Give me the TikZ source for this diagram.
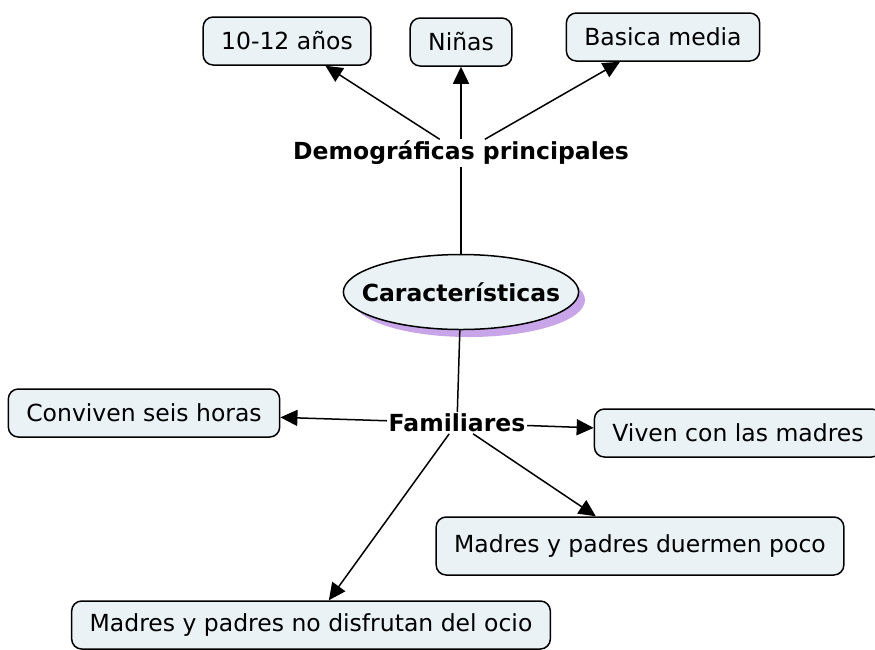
\documentclass[tikz,border=0pt]{standalone}
\usepackage{fontspec}
\setmainfont{DejaVu Sans}
\usetikzlibrary{arrows.meta,shapes.geometric}
\tikzset{>={Triangle[length=17pt,width=16pt]}}
\definecolor{boxfill}{RGB}{234,242,245}
\definecolor{shade1}{RGB}{200,165,232}

\begin{document}
\begin{tikzpicture}[x=1pt,y=-1pt,line width=1.5pt,
    concept/.style={draw,rounded corners=10pt,fill=boxfill,inner xsep=18pt,
      minimum height=48pt,font=\fontsize{23.5}{27}\selectfont},
    linkword/.style={inner sep=1pt,font=\fontsize{23.5}{27}\selectfont\bfseries}]
    \useasboundingbox(0,0)rectangle(875,649);
    % centre
    \fill[shade1](469,300)ellipse[x radius=116,y radius=37];
    \node[draw,ellipse,fill=boxfill,minimum width=232pt,minimum height=75pt,
      inner xsep=-16pt,inner ysep=0pt,
      font=\fontsize{23.5}{27}\selectfont\bfseries](car)at(461,292){Características};
    % upper branch
    \node[linkword](dem)at(461,153){Demográficas principales};
    \node[concept](anos)at(287,41){10-12 años};
    \node[concept](ninas)at(461,42){Niñas};
    \node[concept](basica)at(663,37){Basica media};
    \draw(car)--(dem);
    \draw[->](dem)--(anos);
    \draw[->](dem)--(ninas);
    \draw[->](dem)--(basica);
    % lower branch
    \node[linkword](fam)at(457,423){Familiares};
    \node[concept](conv)at(144,413){Conviven seis horas};
    \node[concept](viven)at(738,433){Viven con las madres};
    \node[concept,minimum height=58pt](duer)at(640,546){Madres y padres duermen poco};
    \node[concept](ocio)at(311,625){Madres y padres no disfrutan del ocio};
    \draw(car)--(fam);
    \draw[->](fam)--(conv);
    \draw[->](fam)--(viven);
    \draw[->](fam)--(duer);
    \draw[->](fam)--(ocio);
\end{tikzpicture}
\end{document}
